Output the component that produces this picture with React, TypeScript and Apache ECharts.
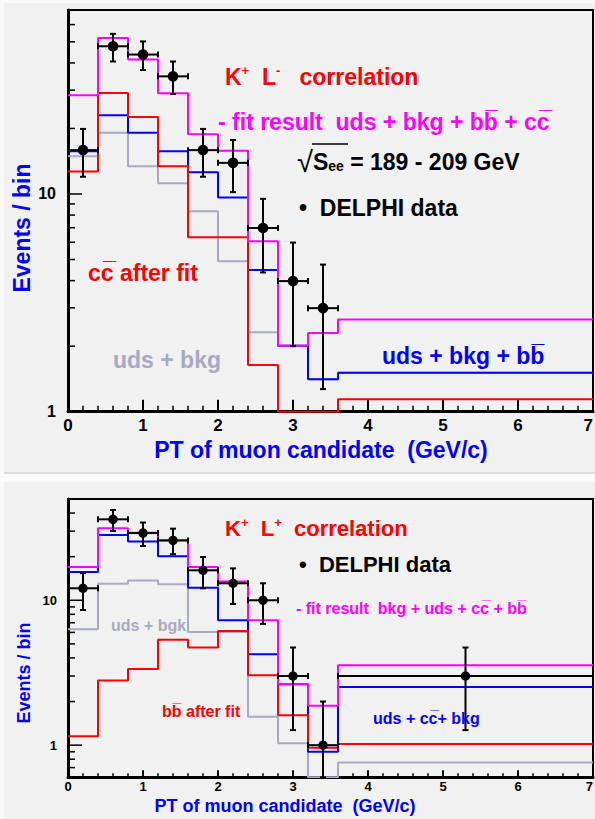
import React, { useEffect, useRef } from 'react';
import * as echarts from 'echarts';

// ---------- data ----------
const binEdges = [0, 0.4, 0.8, 1.2, 1.6, 2.0, 2.4, 2.8, 3.2, 3.6, 7];

// Top panel: K+ L- correlation
const topFit = [28.4, 52, 41.5, 29, 18.8, 15.8, 6.07, 2.01, 2.3, 2.65];
const topCharm = [12.7, 29.1, 22.6, 13.4, 6.33, 6.33, 1.64, 1.0, 1.0, 1.14];
const topUdsBkgB = [15.7, 23.0, 19.1, 15.7, 12.6, 9.63, 4.47, 2.01, 1.41, 1.51];
const topUdsBkg = [14.9, 19.1, 13.4, 11.2, 8.33, 4.91, 2.32, 2.01, 1.41, 1.51];
const topDataX = [0.2, 0.6, 1.0, 1.4, 1.8, 2.2, 2.6, 3.0, 3.4];
const topDataXLo = [0, 0.4, 0.8, 1.2, 1.6, 2.0, 2.4, 2.8, 3.2];
const topDataXHi = [0.4, 0.8, 1.2, 1.6, 2.0, 2.4, 2.8, 3.2, 3.6];
const topDataY = [15.9, 47.7, 43.7, 34.7, 15.9, 13.9, 6.98, 3.98, 2.99];
const topDataYLo = [12.0, 40.6, 37.1, 28.8, 12.0, 10.2, 4.36, 2.0, 1.27];
const topDataYHi = [19.9, 54.4, 50.2, 40.6, 19.9, 17.7, 9.5, 5.98, 4.74];

// Bottom panel: K+ L+ correlation
const botFit = [17.0, 31.4, 29.3, 25.9, 17.0, 13.5, 7.28, 2.63, 1.87, 3.56];
const botUdsCcBkg = [15.7, 28.2, 25.4, 20.1, 12.2, 7.28, 4.24, 2.63, 0.9, 2.52];
const botBeauty = [1.15, 2.79, 3.36, 5.35, 4.72, 6.14, 3.04, 1.61, 0.96, 1.02];
const botUdsBkg = [6.31, 13.0, 13.7, 12.9, 6.05, 6.05, 1.57, 1.03, 0.6, 0.76];
const botDataX = [0.2, 0.6, 1.0, 1.4, 1.8, 2.2, 2.6, 3.0, 3.4, 5.3];
const botDataXLo = [0, 0.4, 0.8, 1.2, 1.6, 2.0, 2.4, 2.8, 3.2, 3.6];
const botDataXHi = [0.4, 0.8, 1.2, 1.6, 2.0, 2.4, 2.8, 3.2, 3.6, 7];
const botDataY = [12.1, 36.2, 29.1, 25.9, 16.1, 13.1, 10.0, 3.0, 1.0, 3.0];
const botDataYLo = [8.57, 30.1, 23.7, 20.8, 12.1, 9.43, 6.87, 1.27, 0.6, 1.27];
const botDataYHi = [15.4, 42.0, 34.4, 31.2, 19.9, 16.6, 13.1, 4.72, 2.0, 4.72];

// axis ticks
const topYMajor = [1, 10];
const topYMinor = [2, 3, 4, 5, 6, 7, 8, 9, 20, 30, 40, 50, 60];
const botYMajor = [1, 10];
const botYMinor = [0.7, 0.8, 0.9, 2, 3, 4, 5, 6, 7, 8, 9, 20, 30, 40, 50];
const yLabelValues = [1, 10];

// ---------- style ----------
const FONT = '"Liberation Sans", Arial, Helvetica, sans-serif';
const RED = '#ff0000';
const MAG = '#ff00ff';
const BLUE = '#0000ff';
const GRAY = '#a9a9c2';
const OVER = '\u0305';

function histData(values: number[]) {
  const pts = values.map((v, i) => [binEdges[i], v]);
  pts.push([binEdges[binEdges.length - 1], values[values.length - 1]]);
  return pts;
}

function histSeries(values: number[], color: string, gi: number, z: number) {
  return {
    type: 'line',
    xAxisIndex: gi,
    yAxisIndex: gi,
    step: 'end',
    data: histData(values),
    symbol: 'none',
    silent: true,
    clip: true,
    z,
    lineStyle: { color, width: 2 },
  };
}

function errSeries(
  xs: number[], xlo: number[], xhi: number[], ys: number[], ylo: number[], yhi: number[],
  gi: number, r: number
) {
  return {
    type: 'custom',
    xAxisIndex: gi,
    yAxisIndex: gi,
    z: 10,
    silent: true,
    data: xs.map((x, i) => [x, ys[i], xlo[i], xhi[i], ylo[i], yhi[i]]),
    renderItem: (_p: any, api: any) => {
      const c = api.coord([api.value(0), api.value(1)]);
      const l = api.coord([api.value(2), api.value(1)]);
      const h = api.coord([api.value(3), api.value(1)]);
      const lo = api.coord([api.value(0), api.value(4)]);
      const hi = api.coord([api.value(0), api.value(5)]);
      const st = { stroke: '#000', lineWidth: 2 };
      const cap = 3;
      return {
        type: 'group',
        children: [
          { type: 'line', shape: { x1: l[0], y1: c[1], x2: h[0], y2: c[1] }, style: st },
          { type: 'line', shape: { x1: l[0], y1: c[1] - cap, x2: l[0], y2: c[1] + cap }, style: st },
          { type: 'line', shape: { x1: h[0], y1: c[1] - cap, x2: h[0], y2: c[1] + cap }, style: st },
          { type: 'line', shape: { x1: c[0], y1: lo[1], x2: c[0], y2: hi[1] }, style: st },
          { type: 'line', shape: { x1: c[0] - cap, y1: lo[1], x2: c[0] + cap, y2: lo[1] }, style: st },
          { type: 'line', shape: { x1: c[0] - cap, y1: hi[1], x2: c[0] + cap, y2: hi[1] }, style: st },
          { type: 'circle', shape: { cx: c[0], cy: c[1], r }, style: { fill: '#000' } },
        ],
      };
    },
  };
}

function tickSeries(values: number[], len: number, gi: number) {
  return {
    type: 'custom',
    xAxisIndex: gi,
    yAxisIndex: gi,
    z: 12,
    silent: true,
    data: values.map((v) => [0, v]),
    renderItem: (_p: any, api: any) => {
      const pt = api.coord([0, api.value(1)]);
      return {
        type: 'line',
        shape: { x1: pt[0], y1: pt[1], x2: pt[0] + len, y2: pt[1] },
        style: { stroke: '#000', lineWidth: 1.5 },
      };
    },
  };
}

function txt(x: number, y: number, text: string, size: number, color: string, extra: any = {}) {
  return {
    type: 'text',
    x,
    y,
    z: 100,
    rotation: extra.rotation || 0,
    style: {
      text,
      fill: color,
      fontSize: size,
      fontWeight: 'bold',
      fontFamily: FONT,
      align: extra.align || 'left',
      verticalAlign: 'middle',
      rich: extra.rich,
    },
  };
}

function richStyles(size: number, color: string, supSize: number) {
  return {
    m: { fontSize: size, fontWeight: 'bold', fontFamily: FONT, fill: color, lineHeight: size + 4 },
    s: { fontSize: supSize, fontWeight: 'bold', fontFamily: FONT, fill: color, padding: [0, 0, Math.round(size * 0.55), 0] },
    d: { fontSize: supSize, fontWeight: 'bold', fontFamily: FONT, fill: color, padding: [Math.round(size * 0.35), 0, 0, 0] },
    r: { fontSize: size + 6, fontWeight: 'normal', fontFamily: FONT, fill: color },
  };
}

function yAxisCfg(gi: number, min: number, max: number, fs: number, margin: number) {
  return {
    type: 'log',
    gridIndex: gi,
    logBase: 10,
    min,
    max,
    axisLine: { show: true, onZero: false, lineStyle: { color: '#000', width: 3 } },
    axisTick: { show: false },
    minorTick: { show: false },
    splitLine: { show: false },
    axisLabel: {
      color: '#000',
      fontSize: fs,
      fontWeight: 'bold',
      fontFamily: FONT,
      margin,
      formatter: (v: number) => {
        const hit = yLabelValues.find((t) => Math.abs(v - t) < 1e-6);
        return hit !== undefined ? String(hit) : '';
      },
    },
  };
}

function xAxisCfg(gi: number, fs: number, tickLen: number, minorLen: number, margin: number) {
  return {
    type: 'value',
    gridIndex: gi,
    min: 0,
    max: 7,
    interval: 1,
    axisLine: { show: true, onZero: false, lineStyle: { color: '#000', width: 3 } },
    axisTick: { show: true, inside: true, length: tickLen, lineStyle: { color: '#000', width: 2 } },
    minorTick: { show: true, splitNumber: 5, length: minorLen, lineStyle: { color: '#000', width: 1.5 } },
    splitLine: { show: false },
    axisLabel: {
      color: '#000', fontSize: fs, fontWeight: 'bold', fontFamily: FONT, margin,
      hideOverlap: false, alignMaxLabel: 'right',
    },
  };
}

export default function App() {
  const ref = useRef<HTMLDivElement>(null);
  useEffect(() => {
    if (!ref.current) return;
    const chart = echarts.init(ref.current, null, { renderer: 'svg' });
    const option: any = {
      animation: false,
      backgroundColor: '#fafafa',
      grid: [
        { left: 68, top: 10, right: 2, bottom: 407.3, show: true, borderColor: '#000', borderWidth: 2, backgroundColor: 'transparent', containLabel: false, outerBoundsMode: 'none' },
        { left: 68, top: 499, right: 2, bottom: 41.7, show: true, borderColor: '#000', borderWidth: 2, backgroundColor: 'transparent', containLabel: false, outerBoundsMode: 'none' },
      ],
      xAxis: [xAxisCfg(0, 17, 12, 6, 5), xAxisCfg(1, 13, 7, 4, 3)],
      yAxis: [yAxisCfg(0, 1, 70, 16, 12), yAxisCfg(1, 0.6, 50, 13, 11)],
      series: [
        histSeries(topUdsBkg, GRAY, 0, 2),
        histSeries(topUdsBkgB, BLUE, 0, 3),
        histSeries(topCharm, RED, 0, 4),
        histSeries(topFit, MAG, 0, 5),
        errSeries(topDataX, topDataXLo, topDataXHi, topDataY, topDataYLo, topDataYHi, 0, 5.3),
        tickSeries(topYMajor, 14, 0),
        tickSeries(topYMinor, 7, 0),
        histSeries(botUdsBkg, GRAY, 1, 2),
        histSeries(botUdsCcBkg, BLUE, 1, 3),
        histSeries(botBeauty, RED, 1, 4),
        histSeries(botFit, MAG, 1, 5),
        errSeries(botDataX, botDataXLo, botDataXHi, botDataY, botDataYLo, botDataYHi, 1, 4.7),
        tickSeries(botYMajor, 14, 1),
        tickSeries(botYMinor, 7, 1),
      ],
      graphic: {
        elements: [
          { type: 'rect', z: -10, shape: { x: 4, y: 3, width: 595, height: 469 }, style: { fill: '#f1f1f1' } },
          { type: 'rect', z: -10, shape: { x: 4, y: 482, width: 595, height: 340 }, style: { fill: '#f1f1f1' } },
          { type: 'line', z: -9, shape: { x1: 4, y1: 473, x2: 595, y2: 473 }, style: { stroke: '#d2d2d2', lineWidth: 1.5 } },
          // top panel texts
          txt(225, 77, '{m|K}{s|+}{m|  L}{s|-}{m|   correlation}', 23, RED, { rich: richStyles(23, RED, 13) }),
          txt(218, 122, '- fit result  uds + bkg + bb' + OVER + ' + cc' + OVER, 23, MAG),
          txt(297, 162, '{r|√}{m|S}{d|ee}{m| = 189 - 209 GeV}', 23, '#000', { rich: richStyles(23, '#000', 14) }),
          { type: 'line', z: 100, shape: { x1: 312, y1: 144, x2: 348, y2: 144 }, style: { stroke: '#000', lineWidth: 1.5 } },
          txt(299, 208, '•  DELPHI data', 23, '#000'),
          txt(88, 273, 'cc' + OVER + ' after fit', 23, RED),
          txt(113, 360, 'uds + bkg', 23, GRAY),
          txt(382, 356, 'uds + bkg + bb' + OVER, 23, BLUE),
          txt(22, 228, 'Events / bin', 23, BLUE, { rotation: Math.PI / 2, align: 'center' }),
          txt(321, 450, 'PT of muon candidate  (GeV/c)', 23, BLUE, { align: 'center' }),
          // bottom panel texts
          txt(225, 528, '{m|K}{s|+}{m|  L}{s|+}{m|  correlation}', 22, RED, { rich: richStyles(22, RED, 13) }),
          txt(299, 564, '•  DELPHI data', 22, '#000'),
          txt(296, 608, '- fit result  bkg + uds + cc' + OVER + ' + bb' + OVER, 16, MAG),
          txt(111, 625, 'uds + bgk', 16, GRAY),
          txt(162, 711, 'bb' + OVER + ' after fit', 16, RED),
          txt(373, 718, 'uds + cc' + OVER + '+ bkg', 16, BLUE),
          txt(24, 673, 'Events / bin', 18, BLUE, { rotation: Math.PI / 2, align: 'center' }),
          txt(285, 806, 'PT of muon candidate  (GeV/c)', 18, BLUE, { align: 'center' }),
        ],
      },
    };
    chart.setOption(option);
    return () => chart.dispose();
  }, []);
  return <div ref={ref} style={{ position: 'absolute', left: 0, top: 0, width: 595, height: 819 }} />;
}
